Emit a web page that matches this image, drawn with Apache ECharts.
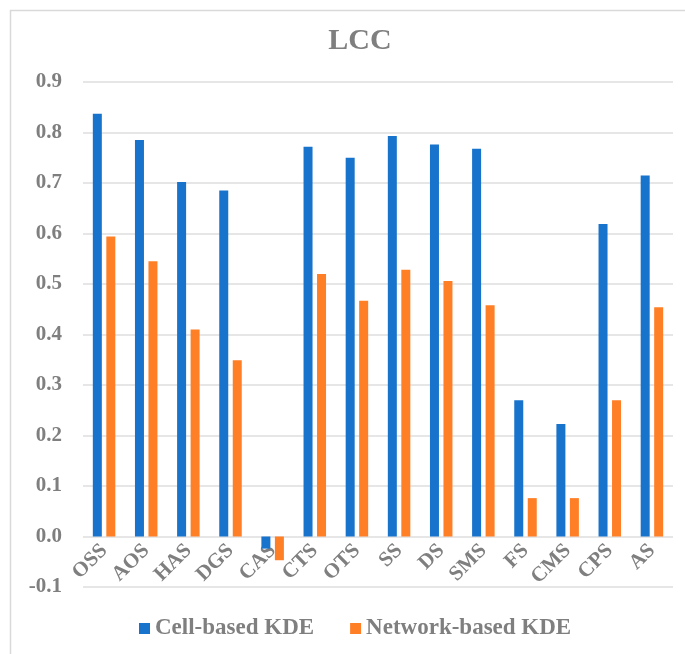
<!DOCTYPE html>
<html>
<head>
<meta charset="utf-8">
<script src="https://cdn.jsdelivr.net/npm/echarts@6/dist/echarts.min.js"></script>
<style>
  html, body { margin: 0; padding: 0; background: #ffffff; }
  #chart { width: 685px; height: 654px; }
</style>
</head>
<body>
<div id="chart"></div>
<script>
// Study areas along the x axis
const categories = ['OSS', 'AOS', 'HAS', 'DGS', 'CAS', 'CTS', 'OTS', 'SS', 'DS', 'SMS', 'FS', 'CMS', 'CPS', 'AS'];

// LCC values for each method
const cellBasedKDE    = [0.837, 0.785, 0.702, 0.685, -0.024, 0.772, 0.750, 0.793, 0.776, 0.768, 0.270, 0.223, 0.619, 0.715];
const networkBasedKDE = [0.594, 0.545, 0.410, 0.349, -0.047, 0.520, 0.467, 0.528, 0.506, 0.458, 0.076, 0.076, 0.270, 0.454];

const seriesNames = ['Cell-based KDE', 'Network-based KDE'];

const serif = "'Liberation Serif', 'Times New Roman', serif";
const grey = '#7f7f7f';
const gridGrey = '#dedede';

const gridTop = 82;
const gridBottom = 67;
const chartHeight = 654;
const yMin = -0.1;
const yMax = 0.9;
// pixel distance from the bottom of the plot (-0.1) up to the zero line
const zeroOffset = (chartHeight - gridTop - gridBottom) * (0 - yMin) / (yMax - yMin);

const chart = echarts.init(document.getElementById('chart'));

chart.setOption({
  animation: false,
  backgroundColor: '#ffffff',
  graphic: [{
    type: 'rect',
    shape: { x: 10.5, y: 10.5, width: 700, height: 660 },
    style: { fill: 'none', stroke: '#d9d9d9', lineWidth: 1.5 },
    silent: true,
    z: -1
  }],
  title: {
    text: 'LCC',
    left: 355,
    textAlign: 'center',
    top: 21,
    textStyle: { fontFamily: serif, fontWeight: 'bold', fontSize: 30, color: grey }
  },
  legend: {
    data: seriesNames,
    left: 134,
    top: 612,
    icon: 'rect',
    itemWidth: 11,
    itemHeight: 11,
    itemGap: 36,
    textStyle: { fontFamily: serif, fontWeight: 'bold', fontSize: 23, color: grey }
  },
  grid: { left: 83, right: 12, top: gridTop, bottom: gridBottom },
  xAxis: {
    type: 'category',
    data: categories,
    offset: -zeroOffset,
    axisLine: { show: false },
    axisTick: { show: false },
    axisLabel: {
      rotate: 45,
      margin: 11,
      interval: 0,
      fontFamily: serif,
      fontWeight: 'bold',
      fontSize: 21,
      color: grey
    }
  },
  yAxis: {
    type: 'value',
    min: yMin,
    max: yMax,
    interval: 0.1,
    axisLine: { show: false },
    axisTick: { show: false },
    splitLine: { lineStyle: { color: gridGrey, width: 1.5 } },
    axisLabel: {
      margin: 21,
      fontFamily: serif,
      fontWeight: 'bold',
      fontSize: 21,
      color: grey,
      formatter: v => v.toFixed(1)
    }
  },
  series: [
    {
      name: seriesNames[0],
      type: 'bar',
      data: cellBasedKDE,
      barWidth: 9,
      barGap: '50%',
      itemStyle: { color: '#1773cb' }
    },
    {
      name: seriesNames[1],
      type: 'bar',
      data: networkBasedKDE,
      barWidth: 9,
      barGap: '50%',
      itemStyle: { color: '#ff7f27' }
    }
  ]
});
</script>
</body>
</html>
